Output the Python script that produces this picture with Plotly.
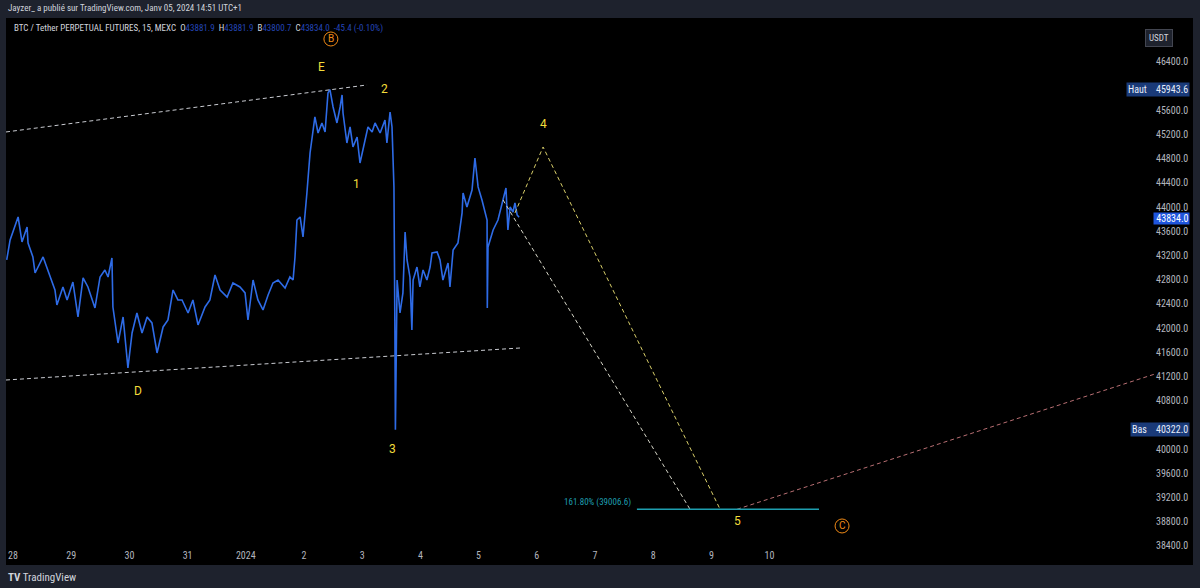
import pandas as pd
import plotly.graph_objects as go

# ---------------- data ----------------
BASE = pd.Timestamp("2023-12-28 00:00")

# BTC/USDT 15m price path (hours since 28 Dec 00:00, price)
price_hours = [-2.6, -1.2, 2.1, 3.7, 5.8, 6.2, 8.2, 9.1, 12.4, 14.0, 17.3, 18.1, 20.6, 22.3, 24.7, 26.8,
               28.9, 30.9, 33.8, 35.9, 37.9, 39.2, 40.8, 41.2, 43.3, 45.4, 47.4, 49.1, 51.1, 53.2, 55.3,
               57.3, 59.4, 61.9, 63.9, 66.0, 68.0, 69.7, 72.2, 74.2, 76.3, 79.2, 81.2, 83.3, 85.4, 88.3,
               90.7, 93.6, 95.7, 96.9, 99.0, 101.0, 103.1, 105.2, 107.2, 109.3, 112.2, 114.2, 115.5,
               116.3, 117.1, 118.4, 119.2, 119.6, 121.2, 122.5, 124.5, 125.8, 127.4, 128.7, 129.9,
               130.7, 132.0, 133.6, 134.9, 135.7, 136.1, 137.7, 139.0, 140.2, 141.9, 143.1, 145.2,
               146.4, 148.1, 149.3, 151.4, 153.4, 154.2, 155.5, 156.3, 157.1, 157.5, 157.7, 158.4,
               159.6, 160.8, 161.7, 162.5, 163.7, 164.5, 165.0, 166.6, 167.8, 169.1, 170.7, 172.0,
               172.8, 174.9, 176.1, 177.3, 179.4, 180.2, 181.5, 183.5, 185.2, 185.6, 187.2, 189.3,
               190.5, 191.8, 193.4, 195.5, 195.6, 195.9, 198.0, 200.0, 202.1, 203.3, 204.1, 205.0,
               206.2, 207.0, 207.9, 208.7]
price_values = [43127, 43458, 43838, 43425, 43673, 43408, 43177, 42912, 43177, 42995, 42631, 42383,
                42681, 42466, 42763, 42185, 42830, 42681, 42334, 42846, 42962, 42846, 43160, 42350,
                41755, 42185, 41342, 41920, 42251, 41920, 42185, 42086, 41590, 42020, 42135, 42631,
                42466, 42466, 42251, 42466, 42053, 42350, 42466, 42879, 42631, 42515, 42747, 42681,
                42582, 42135, 42796, 42466, 42301, 42549, 42747, 42796, 42664, 42846, 42796, 43177,
                43788, 43838, 43573, 43507, 44235, 44896, 45491, 45226, 45392, 45243, 45888, 45943.6,
                45656, 45392, 45656, 45855, 45557, 45061, 45326, 44995, 45160, 44730, 45111, 45326,
                45243, 45392, 45226, 45441, 45061, 45573, 45326, 44334, 41920, 40322, 42796, 42251,
                42582, 43590, 43127, 42846, 41970, 42796, 43011, 42681, 42962, 42796, 43011, 43243,
                43260, 43127, 42796, 43077, 42681, 43292, 43408, 43904, 44235, 44003, 44284, 44813,
                44334, 44119, 43788, 42334, 43342, 43623, 43788, 44119, 44317, 43623, 44003, 43920,
                44069, 43871, 43834]

# triangle trendlines (hours, price)
upper_tl_hours = [-2.9, 146.0]
upper_tl_prices = [45243, 46020]
lower_tl_hours = [-2.9, 209.1]
lower_tl_prices = [41143, 41672]

# projected waves
proj_a_hours = [202.1, 279.2]           # white dashed
proj_a_prices = [44119, 39006.6]
proj_b_hours = [207.0, 218.6, 291.6]    # yellow dashed (via wave 4)
proj_b_prices = [43904, 44995, 39006.6]
proj_c_hours = [298.6, 471.0]           # red dashed recovery
proj_c_prices = [39006.6, 41243]
fib_hours = [257.3, 332.4]              # 161.8% extension level
fib_prices = [39006.6, 39006.6]
fib_label = "161.80% (39006.6)"

# wave labels
wave_labels = ["E", "2", "1", "4", "3", "D", "5"]
wave_hours = [127.4, 153.4, 141.5, 218.6, 156.7, 51.6, 298.6]
wave_prices = [46317, 45954, 44383, 45375, 40003, 40962, 38813]
circle_labels = ["B", "C"]
circle_hours = [131.1, 341.9]
circle_prices = [46780, 38730]

tick_days = ["2023-12-28", "2023-12-29", "2023-12-30", "2023-12-31", "2024-01-01", "2024-01-02",
             "2024-01-03", "2024-01-04", "2024-01-05", "2024-01-06", "2024-01-07", "2024-01-08",
             "2024-01-09", "2024-01-10"]
tick_text = ["28", "29", "30", "31", "2024", "2", "3", "4", "5", "6", "7", "8", "9", "10"]
price_ticks = [38400, 38800, 39200, 39600, 40000, 40800, 41200, 41600, 42000, 42400, 42800, 43200,
               43600, 44000, 44400, 44800, 45200, 45600, 46400]

high_val = 45943.6
low_val = 40322.0
last_val = 43834.0


def t(hours):
    return [BASE + pd.Timedelta(hours=h) for h in hours]


# ---------------- figure ----------------
W, H = 1200, 588
L, R, T, B = 6, 1155, 18, 548


def px(xp):
    return (xp - L) / (R - L)


def py(yp):
    return (B - yp) / (B - T)


FONT = "Liberation Sans Narrow, Arial Narrow, Roboto Condensed, Roboto, sans-serif"

fig = go.Figure()

fig.add_trace(go.Scatter(x=t(price_hours), y=price_values, mode="lines",
                         line=dict(color="#2e6be6", width=1.6), hoverinfo="skip"))

dash_w = "4px,3px"
fig.add_trace(go.Scatter(x=t(upper_tl_hours), y=upper_tl_prices, mode="lines",
                         line=dict(color="#c9cbd1", width=1, dash=dash_w)))
fig.add_trace(go.Scatter(x=t(lower_tl_hours), y=lower_tl_prices, mode="lines",
                         line=dict(color="#c9cbd1", width=1, dash=dash_w)))
fig.add_trace(go.Scatter(x=t(proj_a_hours), y=proj_a_prices, mode="lines",
                         line=dict(color="#d6d6c8", width=1, dash=dash_w)))
fig.add_trace(go.Scatter(x=t(proj_b_hours), y=proj_b_prices, mode="lines",
                         line=dict(color="#d9cf6a", width=1, dash=dash_w)))
fig.add_trace(go.Scatter(x=t(proj_c_hours), y=proj_c_prices, mode="lines",
                         line=dict(color="#b86f73", width=1, dash=dash_w)))
fig.add_trace(go.Scatter(x=t(fib_hours), y=fib_prices, mode="lines",
                         line=dict(color="#1e9fb0", width=1.3)))

annotations = []
for lab, h, p in zip(wave_labels, wave_hours, wave_prices):
    annotations.append(dict(x=t([h])[0], y=p, xref="x", yref="y", text=lab, showarrow=False,
                            font=dict(family="Roboto, sans-serif", size=12, color="#f2dc3a")))

shapes = [dict(type="rect", xref="paper", yref="paper", x0=px(6), x1=px(1193), y0=py(565), y1=py(18),
               fillcolor="#000000", line=dict(width=0), layer="below")]
for lab, h, p in zip(circle_labels, circle_hours, circle_prices):
    shapes.append(dict(type="circle", xref="x", yref="y", xsizemode="pixel", ysizemode="pixel",
                       xanchor=t([h])[0], yanchor=p, x0=-7, x1=7, y0=-7, y1=7,
                       line=dict(color="#f08a16", width=1)))
    annotations.append(dict(x=t([h])[0], y=p, xref="x", yref="y", text=lab, showarrow=False,
                            font=dict(family="Roboto, sans-serif", size=10, color="#f08a16")))

annotations.append(dict(x=t([fib_hours[0]])[0], y=fib_prices[0], xref="x", yref="y", text=fib_label,
                        showarrow=False, xanchor="right", yanchor="bottom", xshift=-4, yshift=-1,
                        font=dict(family=FONT, size=9, color="#1e9fb0")))

# title line
annotations.append(dict(x=px(6), y=py(8), xref="paper", yref="paper", xanchor="left", yanchor="middle",
                        showarrow=False, text="Jayzer_ a publié sur TradingView.com, Janv 05, 2024 14:51 UTC+1",
                        font=dict(family=FONT, size=9, color="#d1d4dc")))
# symbol legend
blue = "#2446b8"
legend = ("BTC / Tether PERPETUAL FUTURES, 15, MEXC&nbsp;&nbsp;"
          f"O<span style='color:{blue}'>43881.9</span>&nbsp;&nbsp;"
          f"H<span style='color:{blue}'>43881.9</span>&nbsp;&nbsp;"
          f"B<span style='color:{blue}'>43800.7</span>&nbsp;&nbsp;"
          f"C<span style='color:{blue}'>43834.0</span>&nbsp;&nbsp;"
          f"<span style='color:{blue}'>-45.4 (-0.10%)</span>")
annotations.append(dict(x=px(12), y=py(28), xref="paper", yref="paper", xanchor="left", yanchor="middle",
                        showarrow=False, text=legend, font=dict(family=FONT, size=9, color="#d1d4dc")))
# USDT button
annotations.append(dict(x=px(1173), y=py(29), xref="paper", yref="paper", showarrow=False, text="USDT",
                        bgcolor="#1e222d", bordercolor="#434651", borderwidth=1, borderpad=3,
                        font=dict(family=FONT, size=9, color="#d1d4dc")))
# high / low / last labels on price scale
annotations.append(dict(x=px(1190), y=high_val, xref="paper", yref="y", xanchor="right", showarrow=False,
                        text=f"Haut&nbsp;&nbsp;&nbsp;&nbsp;{high_val:.1f}", bgcolor="#1a3a78",
                        borderpad=1, font=dict(family=FONT, size=10, color="#e6ecf8")))
annotations.append(dict(x=px(1190), y=low_val, xref="paper", yref="y", xanchor="right", showarrow=False,
                        text=f"Bas&nbsp;&nbsp;&nbsp;&nbsp;{low_val:.1f}", bgcolor="#1a3a78",
                        borderpad=1, font=dict(family=FONT, size=10, color="#e6ecf8")))
annotations.append(dict(x=px(1190), y=last_val, xref="paper", yref="y", xanchor="right", showarrow=False,
                        text=f"&nbsp;{last_val:.1f}", bgcolor="#1f55dd", borderpad=0, yshift=-1,
                        font=dict(family=FONT, size=10, color="#ffffff")))
# footer
annotations.append(dict(x=px(6), y=py(577), xref="paper", yref="paper", xanchor="left", yanchor="middle",
                        showarrow=False, text="<b>TV</b> TradingView",
                        font=dict(family=FONT, size=11, color="#d1d4dc")))

x0 = BASE + pd.Timedelta(hours=-2.89)
x1 = BASE + pd.Timedelta(hours=470.96)

fig.update_layout(
    width=W, height=H, showlegend=False,
    paper_bgcolor="#1e222d", plot_bgcolor="#000000",
    margin=dict(l=L, r=W - R, t=T, b=H - B, pad=0),
    xaxis=dict(range=[x0, x1], tickvals=pd.to_datetime(tick_days), ticktext=tick_text,
               showgrid=False, zeroline=False, showline=False, ticks="",
               tickfont=dict(family=FONT, size=10, color="#b2b5be"), fixedrange=True),
    yaxis=dict(range=[38366, 47127], side="right", tickvals=price_ticks, tickformat=".1f",
               showgrid=False, zeroline=False, showline=False, ticks="",
               tickfont=dict(family=FONT, size=10, color="#b2b5be"), fixedrange=True),
    annotations=annotations, shapes=shapes,
)

fig.write_html("out.html", config={"displayModeBar": False},
               post_script="document.body.style.margin='0';document.body.style.padding='0';"
                           "document.body.style.background='#1e222d';document.body.style.overflow='hidden';")
